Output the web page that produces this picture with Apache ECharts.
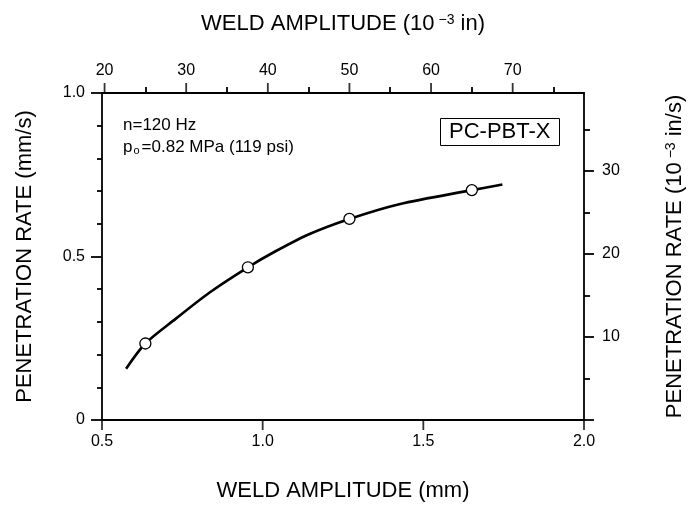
<!DOCTYPE html>
<html>
<head>
<meta charset="utf-8">
<script src="https://cdn.jsdelivr.net/npm/echarts@6/dist/echarts.min.js"></script>
<style>
html,body{margin:0;padding:0;background:#fff;}
#chart{width:689px;height:509px;}
</style>
</head>
<body>
<div id="chart"></div>
<script>
// measured points (mm, mm/s)
var ampMm = [0.635, 0.954, 1.27, 1.651];
var rateMm = [0.234, 0.467, 0.615, 0.703];
// fitted curve
var fitAmp = [0.575, 0.635, 0.73, 0.835, 0.954, 1.04, 1.146, 1.27, 1.425, 1.651, 1.746];
var fitRate = [0.157, 0.234, 0.31, 0.39, 0.467, 0.516, 0.569, 0.615, 0.66, 0.703, 0.72];

// tick values
var mmTicks = [0.5, 1.0, 1.5, 2.0];
var milMajor = [20, 30, 40, 50, 60, 70];
var milMinor = [25, 35, 45, 55, 65, 75];
var rateMinor = [0.1, 0.2, 0.3, 0.4, 0.6, 0.7, 0.8, 0.9];
var inRateMajor = [0, 10, 20, 30];
var inRateLabels = [10, 20, 30];
var inRateMinor = [5, 15, 25, 35];

var MM_PER_IN = 0.0254;
var FONT = '"Liberation Sans", Arial, sans-serif';

function pairs(xs, ys) {
	var out = [];
	for (var i = 0; i < xs.length; i++) out.push([xs[i], ys[i]]);
	return out;
}

var chart = echarts.init(document.getElementById('chart'));
var black = '#000';
var lineSt = {color: black, width: 1.8};
var lbl = {color: black, fontSize: 16, fontFamily: FONT};
var nameSt = {color: black, fontSize: 22, fontFamily: FONT,
	rich: {
		a: {fontSize: 22, fontFamily: FONT, color: black},
		s: {fontSize: 14, fontFamily: FONT, color: black, verticalAlign: 'top', padding: [0, 6, 0, 4]}
	}
};
function box() {
	return {left: 102, right: 105, top: 93, bottom: 89, containLabel: false, outerBoundsMode: 'none'};
}

// axis that only draws ticks
function tickAxis(grid, pos, min, max, values, len) {
	return {
		gridIndex: grid, type: 'value', position: pos, min: min, max: max,
		axisLine: {show: false, onZero: false},
		axisTick: {show: !!values, customValues: values || undefined, length: len, lineStyle: lineSt},
		axisLabel: {show: false},
		splitLine: {show: false}
	};
}

// x-axis major ticks drawn as thin rect marks on the axis edge
function tickMarks(xs, yEdge, dir) {
	return {
		type: 'scatter', xAxisIndex: 0, yAxisIndex: 0, silent: true, clip: false,
		data: xs.map(function (x) { return [x, yEdge]; }),
		symbol: 'rect', symbolSize: [1.8, 10], symbolOffset: [0, 5 * dir],
		itemStyle: {color: black}, z: 3
	};
}

var milMin = 0.5 / MM_PER_IN, milMax = 2.0 / MM_PER_IN, inMax = 1.0 / MM_PER_IN;

var option = {
	backgroundColor: '#fff',
	animation: false,
	title: {
		text: 'PC-PBT-X', left: 440, top: 118,
		borderColor: black, borderWidth: 1, padding: [3, 9, 3, 9],
		textStyle: {fontSize: 22, fontWeight: 'normal', color: black, fontFamily: FONT}
	},
	grid: [box(), box(), box(), box()],
	xAxis: [
		{ // bottom, mm
			gridIndex: 0, type: 'value', position: 'bottom', min: 0.5, max: 2.0, interval: 0.5,
			axisLine: {show: true, onZero: false, lineStyle: lineSt},
			axisTick: {show: false},
			axisLabel: {margin: 14, formatter: function (v) { return v.toFixed(1); }, ...lbl},
			splitLine: {show: false},
			name: 'WELD AMPLITUDE (mm)', nameLocation: 'middle', nameGap: 60, nameTextStyle: nameSt
		},
		{ // top, 10^-3 in
			gridIndex: 1, type: 'value', position: 'top', min: milMin, max: milMax,
			axisLine: {show: true, onZero: false, lineStyle: lineSt},
			axisTick: {show: false},
			axisLabel: {customValues: milMajor, margin: 14, ...lbl},
			splitLine: {show: false},
			name: '{a|WELD AMPLITUDE (10}{s|−3}{a|in)}', nameLocation: 'middle', nameGap: 58, nameTextStyle: nameSt
		},
		tickAxis(2, 'top', milMin, milMax, milMinor, 6),
		tickAxis(3, 'bottom', 0.5, 2.0, null, 0)
	],
	yAxis: [
		{ // left, mm/s
			gridIndex: 0, type: 'value', position: 'left', min: 0, max: 1.0, interval: 0.5,
			axisLine: {show: true, onZero: false, lineStyle: lineSt},
			axisTick: {show: true, length: 11, lineStyle: lineSt},
			axisLabel: {margin: 17, formatter: function (v) { return v === 0 ? '0' : v.toFixed(1); }, ...lbl},
			splitLine: {show: false},
			name: 'PENETRATION RATE (mm/s)', nameLocation: 'middle', nameGap: 66, nameTextStyle: nameSt
		},
		{ // right, 10^-3 in/s
			gridIndex: 1, type: 'value', position: 'right', min: 0, max: inMax,
			axisLine: {show: true, onZero: false, lineStyle: lineSt},
			axisTick: {show: true, customValues: inRateMajor, length: 10, lineStyle: lineSt},
			axisLabel: {customValues: inRateLabels, margin: 18, ...lbl},
			splitLine: {show: false},
			name: '{a|PENETRATION RATE (10}{s|−3}{a|in/s)}', nameLocation: 'middle', nameGap: 80, nameTextStyle: nameSt
		},
		tickAxis(2, 'left', 0, 1.0, rateMinor, 5),
		tickAxis(3, 'right', 0, inMax, inRateMinor, 6)
	],
	graphic: [
		{type: 'text', left: 123, top: 117, style: {text: 'n=120 Hz', fill: black, font: '17px ' + FONT}},
		{type: 'text', left: 123, top: 139, style: {
			text: '{a|p}{b|o}{a|=0.82 MPa (119 psi)}',
			rich: {
				a: {fontSize: 17, fontFamily: FONT, fill: black, color: black},
				b: {fontSize: 11, fontFamily: FONT, fill: black, color: black, verticalAlign: 'bottom', padding: [0, 2, 0, 1]}
			}
		}}
	],
	series: [
		{
			type: 'line', xAxisIndex: 0, yAxisIndex: 0,
			data: pairs(fitAmp, fitRate),
			smooth: 0.3, showSymbol: false,
			lineStyle: {color: black, width: 2.6}
		},
		{
			type: 'scatter', xAxisIndex: 0, yAxisIndex: 0,
			data: pairs(ampMm, rateMm),
			symbol: 'circle', symbolSize: 11,
			itemStyle: {color: '#fff', borderColor: black, borderWidth: 1.3, opacity: 1},
			z: 5
		},
		tickMarks(mmTicks, 0, 1),
		tickMarks(milMajor.map(function (m) { return m * MM_PER_IN; }), 1.0, -1)
	]
};
chart.setOption(option);
</script>
</body>
</html>
